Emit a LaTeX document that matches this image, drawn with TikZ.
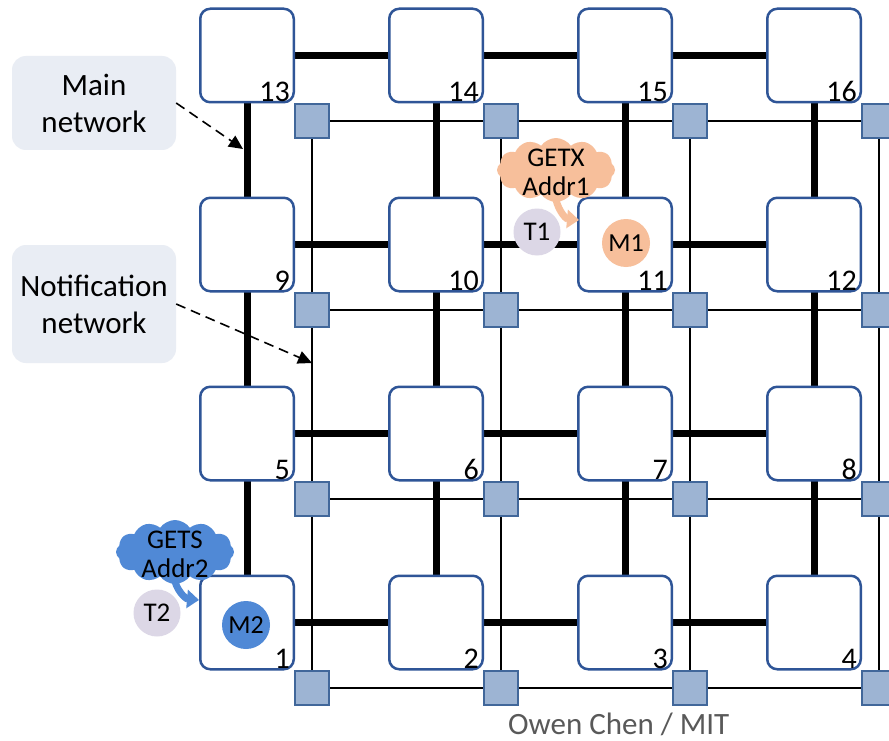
\documentclass[tikz,border=0pt]{standalone}
\usepackage{fontspec}
\setmainfont{Carlito}
\usetikzlibrary{shapes.symbols,arrows.meta,backgrounds}
\definecolor{rborder}{HTML}{2F5597}
\definecolor{swfill}{HTML}{9DB4D3}
\definecolor{swborder}{HTML}{41679A}
\definecolor{lblfill}{HTML}{E9EDF4}
\definecolor{orangeF}{HTML}{F7BF9B}
\definecolor{blueF}{HTML}{5089D6}
\definecolor{lavender}{HTML}{DCD7E6}
\definecolor{credit}{HTML}{595959}
\tikzset{
  router/.style={draw=rborder, line width=2.5pt, fill=white, rounded corners=10pt, minimum size=93.5pt, inner sep=0pt},
  num/.style={anchor=south east, inner sep=0pt, font=\fontsize{30}{32}\selectfont},
  sw/.style={draw=swborder, line width=1.2pt, fill=swfill, minimum size=34pt, inner sep=0pt},
  thin/.style={draw=black, line width=1.1pt},
  thick/.style={draw=black, line width=7pt},
  lbl/.style={fill=lblfill, rounded corners=14pt, minimum width=164pt, inner sep=0pt, align=center, font=\fontsize{31}{37}\selectfont},
  dasharrow/.style={draw=black, line width=1.6pt, dash pattern=on 10pt off 6pt, -{Triangle[length=14pt,width=13pt]}},
  bubble/.style={cloud, cloud puffs=12, cloud puff arc=110, cloud ignores aspect, minimum width=118pt, minimum height=64pt, inner sep=0pt},
  bubbletext/.style={inner sep=0pt, align=center, font=\fontsize{27}{29}\selectfont},
  tcirc/.style={circle, fill=lavender, minimum size=47pt, inner sep=0pt, font=\fontsize{27}{29}\selectfont},
  mcirc/.style={circle, minimum size=48pt, inner sep=0pt, font=\fontsize{26}{28}\selectfont},
  tail/.style={line width=7pt, -{Triangle[length=12pt,width=18pt]}}
}
\begin{document}
\begin{tikzpicture}[x=1pt,y=-1pt]
\useasboundingbox (0,0) rectangle (889,741);
% routers and switches
\foreach \i in {0,...,3}{
  \foreach \j in {0,...,3}{
    \pgfmathtruncatemacro\n{(3-\j)*4+\i+1}
    \node[router] (r\n) at ({247+189*\i},{55.5+189*\j}) {};
    \node[num] at ([xshift=-5pt,yshift=2pt]r\n.south east) {\n};
    \node[sw] (s\n) at ({312+189*\i},{121+189*\j}) {};
  }
}
\begin{scope}[on background layer]
  \fill[white] (0,0) rectangle (889,741);
  % notification network (thin)
  \foreach \a/\b in {1/2,2/3,3/4,5/6,6/7,7/8,9/10,10/11,11/12,13/14,14/15,15/16,
                     1/5,5/9,9/13,2/6,6/10,10/14,3/7,7/11,11/15,4/8,8/12,12/16}{
    \draw[thin] (s\a.center) -- (s\b.center);
  }
  % main network (thick)
  \foreach \a/\b in {1/2,2/3,3/4,5/6,6/7,7/8,9/10,10/11,11/12,13/14,14/15,15/16,
                     1/5,5/9,9/13,2/6,6/10,10/14,3/7,7/11,11/15,4/8,8/12,12/16}{
    \draw[thick] (r\a.center) -- (r\b.center);
  }
\end{scope}
% labels
\node[lbl, minimum height=94pt] (mainlbl) at (94,103) {Main\\network};
\node[lbl, minimum height=118pt] (notiflbl) at (94,304) {Notification\\network};
\coordinate (mainpt) at (243,149);
\coordinate (notifpt) at (312,363);
\draw[dasharrow] (mainlbl.east) -- (mainpt);
\draw[dasharrow] (notiflbl.east) -- (notifpt);
% request 1
\node[bubble, fill=orangeF] (getx) at (556,170) {};
\coordinate (tipA) at (579,220);
\draw[tail, draw=orangeF, fill=orangeF] (555,194) to[out=-85,in=175] (tipA);
\node[bubbletext] (getxtext) at (556,172) {GETX\\Addr1};
\node[tcirc] (t1) at (537,232) {T1};
\node[mcirc, fill=orangeF] (m1) at (626,243) {M1};
% request 2
\node[bubble, fill=blueF] (gets) at (175,552) {};
\coordinate (tipB) at (199,600);
\draw[tail, draw=blueF, fill=blueF] (174,576) to[out=-85,in=175] (tipB);
\node[bubbletext] (getstext) at (175,554) {GETS\\Addr2};
\node[tcirc] (t2) at (157,613) {T2};
\node[mcirc, fill=blueF] (m2) at (246,625) {M2};
% credit
\node[anchor=base west, inner sep=0pt, text=credit, font=\fontsize{31}{36}\selectfont] (cred) at (508,734) {Owen Chen / MIT};
\end{tikzpicture}
\end{document}
